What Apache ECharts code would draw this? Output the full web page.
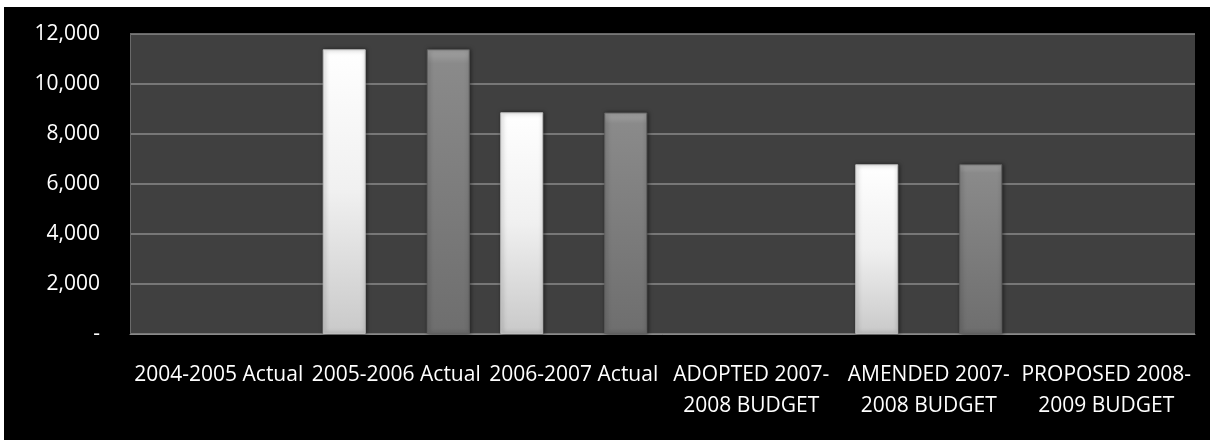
<!DOCTYPE html>
<html>
<head>
<meta charset="utf-8">
<script src="https://cdn.jsdelivr.net/npm/echarts@6/dist/echarts.min.js"></script>
<style>
  html, body { margin: 0; padding: 0; background: #ffffff; }
  #chart { position: absolute; left: 4px; top: 7px; width: 1206px; height: 433px; background: #000000; }
</style>
</head>
<body>
<div id="chart"></div>
<script>
// Categories along the x axis
const categories = [
  '2004-2005 Actual',
  '2005-2006 Actual',
  '2006-2007 Actual',
  'ADOPTED 2007-2008 BUDGET',
  'AMENDED 2007-2008 BUDGET',
  'PROPOSED 2008-2009 BUDGET'
];
// Two series per category (light and dark columns)
const seriesLight = [0, 11390, 8870, 0, 6790, 0];
const seriesDark = [0, 11390, 8860, 0, 6790, 0];
// Value axis ticks
const yTicks = [0, 2000, 4000, 6000, 8000, 10000, 12000];

const FONT = 'Open Sans';

const chart = echarts.init(document.getElementById('chart'), null, { renderer: 'canvas' });

function wrapLabel(s) {
  // long budget labels break after the first year's hyphen
  const m = s.match(/^(\S+ \d{4}-)(.+)$/);
  return (s.indexOf('BUDGET') >= 0 && m) ? m[1] + '\n' + m[2] : s;
}

// zero-height columns are left empty so no outline is drawn for them
const asBars = arr => arr.map(v => (v === 0 ? null : v));

function columnStyle(stops, edge) {
  return {
    color: new echarts.graphic.LinearGradient(0, 0, 0, 1, stops),
    borderColor: edge,
    borderWidth: 1,
    shadowColor: 'rgba(0,0,0,0.5)',
    shadowBlur: 4,
    shadowOffsetX: 1
  };
}

chart.setOption({
  backgroundColor: '#000000',
  animation: false,
  grid: {
    left: 126, right: 15, top: 27, bottom: 106,
    show: true, backgroundColor: '#404040', borderWidth: 0
  },
  xAxis: {
    type: 'category',
    data: categories,
    axisLine: { show: true, lineStyle: { color: '#8a8a8a', width: 1 } },
    axisTick: { show: false },
    axisLabel: {
      interval: 0,
      color: '#ffffff',
      fontFamily: FONT,
      fontSize: 21,
      lineHeight: 31,
      margin: 26,
      formatter: wrapLabel
    }
  },
  yAxis: {
    type: 'value',
    min: yTicks[0],
    max: yTicks[yTicks.length - 1],
    interval: yTicks[1] - yTicks[0],
    axisLine: { show: true, lineStyle: { color: '#6a6a6a', width: 1 } },
    axisTick: { show: false },
    splitLine: { lineStyle: { color: '#8a8a8a', width: 1.5 } },
    axisLabel: {
      color: '#ffffff',
      fontFamily: FONT,
      fontSize: 21,
      margin: 30,
      formatter: v => v === 0 ? '-' : v.toLocaleString('en-US')
    }
  },
  series: [
    {
      name: 'Light',
      type: 'bar',
      data: asBars(seriesLight),
      barWidth: 43,
      barGap: '142%',
      itemStyle: columnStyle([
        { offset: 0, color: '#ffffff' },
        { offset: 0.5, color: '#f0f0f0' },
        { offset: 1, color: '#c9c9c9' }
      ], '#bdbdbd')
    },
    {
      name: 'Dark',
      type: 'bar',
      data: asBars(seriesDark),
      barWidth: 43,
      itemStyle: columnStyle([
        { offset: 0, color: '#a4a4a4' },
        { offset: 0.05, color: '#8a8a8a' },
        { offset: 1, color: '#6e6e6e' }
      ], '#606060')
    }
  ]
});
</script>
</body>
</html>
